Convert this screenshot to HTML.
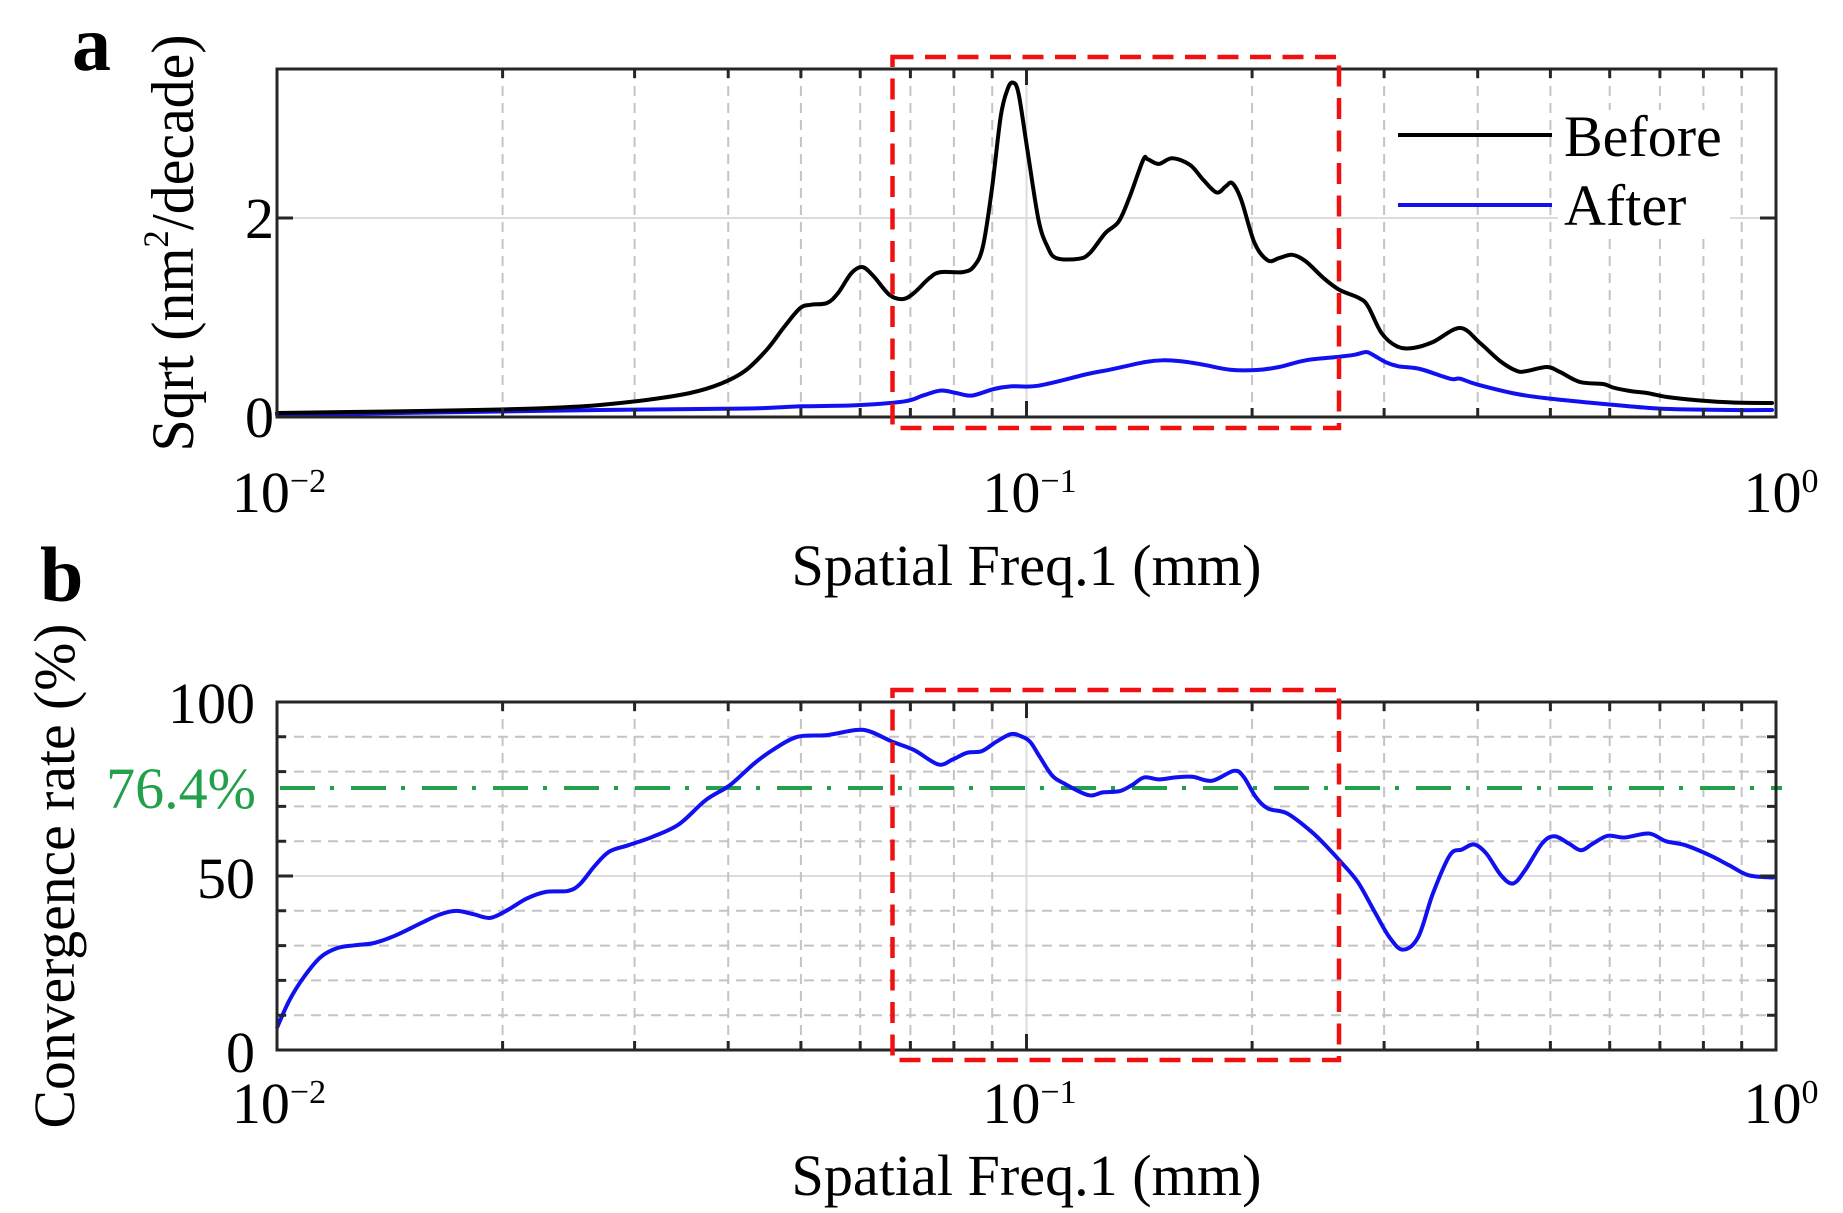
<!DOCTYPE html>
<html><head><meta charset="utf-8"><style>
html,body{margin:0;padding:0;background:#fff;}
svg{display:block;}
text{font-family:"Liberation Serif","Times New Roman",serif;fill:#000;}
</style></head><body>
<svg id="fig" width="1843" height="1213" viewBox="0 0 1843 1213" xmlns="http://www.w3.org/2000/svg">
<rect x="0" y="0" width="1843" height="1213" fill="#fff"/>

<!-- ===== Panel a ===== -->
<g fill="none">
  <path d="M1026.5 69V417M277 218H1776" stroke="#dcdcdc" stroke-width="2"/>
  <path d="M502.6 69V417M634.6 69V417M728.2 69V417M800.9 69V417M860.2 69V417M910.4 69V417M953.9 69V417M992.2 69V417M1252.1 69V417M1384.1 69V417M1477.7 69V417M1550.4 69V417M1609.7 69V417M1659.9 69V417M1703.4 69V417M1741.7 69V417" stroke="#c4c4c4" stroke-width="2" stroke-dasharray="10 7"/>
</g>
<rect x="1558" y="110" width="172" height="128" fill="#fff"/>

<polyline class="smooth" fill="none" stroke="#1010f0" stroke-width="4" stroke-linejoin="round" stroke-linecap="round" points="277,414.5 400,413 500,411.5 600,410 700,409 757.9,408.3 802.4,406.3 855.9,405.3 904.9,401.3 922.7,395.6 940.5,390.6 956.1,393 971.7,395.6 994,389 1011.8,386.3 1038.5,385.7 1087.5,374 1109.8,369.7 1145.4,362 1163.3,360.3 1181.1,361.3 1203.3,364.7 1230.1,369.7 1256.8,370 1279.1,367 1305.8,360.3 1337,357 1354.8,354.7 1366,352 1372.6,354.7 1386,362.3 1398.4,366.3 1420,369 1450,378.7 1460,378.7 1477,384.4 1517,394 1550,398.6 1600,403.6 1660,408.6 1733,410 1772,410"/>

<polyline class="smooth" fill="none" stroke="#000" stroke-width="4" stroke-linejoin="round" stroke-linecap="round" points="277,413 350,412 420,411 500,409.5 560,407.5 600,405 650,399.5 690,393 720,384 744.5,371.3 766.8,349.7 784.6,326.4 800.2,308.1 811.4,304.7 827,303 838.1,293 851.4,273.1 862.6,267.1 873.7,276.4 889.3,294.7 902.7,299.1 913.8,293.1 929.4,278.1 940.5,272.1 962.8,272.1 973.9,266.4 982.9,246.5 991.8,189.9 1000.7,116.6 1007.3,90 1012.7,82.6 1018.5,93.3 1027.4,149.9 1038.5,219.8 1047.4,246.5 1056.3,258.1 1078.6,258.8 1089.8,253.1 1105.3,233.1 1118.7,221.5 1129.8,196.5 1143.2,159.9 1147.6,159.2 1158.8,163.9 1172.2,158.2 1190,164.9 1203.3,179.9 1216.7,192.5 1225.6,186.5 1232.3,183.2 1241.2,199.8 1254.6,243.1 1267.9,260.4 1279.1,258.1 1292.4,254.8 1305.8,261.4 1323.6,278.1 1339.2,289.7 1359.2,298.1 1368.1,306.4 1381.5,333 1397.1,346.4 1413,348 1433,342 1460,328 1480,343 1500,361 1517,371 1527,371 1547,367 1560,372 1580,382 1603,384 1613,387.5 1630,391 1647,393 1667,397 1700,400.5 1733,402.5 1772,403"/>

<g fill="none" stroke="#262626" stroke-width="3">
  <rect x="277" y="69" width="1499" height="348"/>
  <path d="M502.6 69v9M634.6 69v9M728.2 69v9M800.9 69v9M860.2 69v9M910.4 69v9M953.9 69v9M992.2 69v9M1252.1 69v9M1384.1 69v9M1477.7 69v9M1550.4 69v9M1609.7 69v9M1659.9 69v9M1703.4 69v9M1741.7 69v9M1026.5 69v16
           M502.6 417v-9M634.6 417v-9M728.2 417v-9M800.9 417v-9M860.2 417v-9M910.4 417v-9M953.9 417v-9M992.2 417v-9M1252.1 417v-9M1384.1 417v-9M1477.7 417v-9M1550.4 417v-9M1609.7 417v-9M1659.9 417v-9M1703.4 417v-9M1741.7 417v-9M1026.5 417v-16
           M277 218h16M1776 218h-16"/>
</g>

<rect x="892.5" y="57" width="446.5" height="371" fill="none" stroke="#f01010" stroke-width="4.5" stroke-dasharray="21 11.5"/>

<!-- legend -->
<path d="M1398 135H1552" stroke="#000" stroke-width="4"/>
<path d="M1398 205H1552" stroke="#1010f0" stroke-width="4"/>
<text x="1564" y="156" font-size="58">Before</text>
<text x="1564" y="225" font-size="58">After</text>

<!-- axis labels a -->
<text x="274" y="238" font-size="58" text-anchor="end">2</text>
<text x="274" y="437" font-size="58" text-anchor="end">0</text>
<text x="279" y="512" font-size="58" text-anchor="middle">10<tspan font-size="34" dy="-20">−2</tspan></text>
<text x="1029.5" y="512" font-size="58" text-anchor="middle">10<tspan font-size="34" dy="-20">−1</tspan></text>
<text x="1781" y="512" font-size="58" text-anchor="middle">10<tspan font-size="34" dy="-20">0</tspan></text>
<text x="1026.5" y="585" font-size="58" text-anchor="middle" textLength="470" lengthAdjust="spacingAndGlyphs">Spatial Freq.1 (mm)</text>
<text transform="translate(193,243) rotate(-90)" font-size="60" text-anchor="middle" textLength="417" lengthAdjust="spacingAndGlyphs">Sqrt (nm<tspan font-size="36" dy="-25">2</tspan><tspan dy="25">/decade)</tspan></text>
<text x="72" y="70" font-size="78" font-weight="bold">a</text>

<!-- ===== Panel b ===== -->
<g fill="none">
  <path d="M1026.5 702V1050M277 876H1776" stroke="#dcdcdc" stroke-width="2"/>
  <path d="M502.6 702V1050M634.6 702V1050M728.2 702V1050M800.9 702V1050M860.2 702V1050M910.4 702V1050M953.9 702V1050M992.2 702V1050M1252.1 702V1050M1384.1 702V1050M1477.7 702V1050M1550.4 702V1050M1609.7 702V1050M1659.9 702V1050M1703.4 702V1050M1741.7 702V1050
           M277 736.8H1776M277 771.6H1776M277 806.4H1776M277 841.2H1776M277 910.8H1776M277 945.6H1776M277 980.4H1776M277 1015.2H1776" stroke="#c4c4c4" stroke-width="2" stroke-dasharray="10 7"/>
</g>

<path d="M280 788H1782" fill="none" stroke="#23a04b" stroke-width="4" stroke-dasharray="35 15 4 17"/>

<polyline class="smooth" fill="none" stroke="#1010f0" stroke-width="4" stroke-linejoin="round" stroke-linecap="round" points="277.3,1027 289.4,1000.3 303.9,977 320.8,957 337.8,947.9 354.7,945.3 374.1,943 395.9,935.3 420.1,923.6 439.5,914.6 456.4,910.9 473.4,914.2 490.3,917.9 507.3,910.2 526.7,898.6 546,891.9 567.8,890.9 579.9,884.2 594.5,866.2 609,851.8 628.4,845.2 652.6,836.8 679.2,824.1 705.8,800.1 730,785.1 754.3,763.4 773.6,749.4 797.8,736.7 826.9,735.1 856,730 870.5,731.7 892.3,741.7 914.1,750.1 938.3,764.4 952.8,759.4 967.3,752.7 981.9,751.1 996.4,741.7 1010.9,734.1 1020.6,736.1 1030,741.7 1039.7,756.7 1051.8,775.1 1064,783.4 1088.3,795.1 1102.8,792.4 1119.8,791.1 1132,785.1 1144.1,777.4 1158.6,779.4 1175.6,777.4 1192.6,776.8 1212,780.8 1233.9,770.8 1243.6,776.8 1255.7,796.8 1267.9,808.5 1287.3,813.5 1311.6,831.8 1328.5,848.5 1340.7,861.8 1357.7,881.9 1374.7,911.9 1389.2,936.9 1402.8,949.6 1418.3,936.9 1432.9,893.5 1449.9,855.2 1462,849.5 1474.2,844.5 1486.3,853.5 1500.9,875.2 1513,883.5 1525.1,870.2 1542.1,843.5 1554.3,836.2 1568.8,843.5 1581,850.2 1593.1,843.5 1607.7,835.8 1624.7,837.5 1648.9,833.5 1665.9,841.2 1685.3,845.2 1709.6,855.2 1729,865.2 1748.4,875.2 1772.7,877.5"/>

<g fill="none" stroke="#262626" stroke-width="3">
  <rect x="277" y="702" width="1499" height="348"/>
  <path d="M502.6 702v9M634.6 702v9M728.2 702v9M800.9 702v9M860.2 702v9M910.4 702v9M953.9 702v9M992.2 702v9M1252.1 702v9M1384.1 702v9M1477.7 702v9M1550.4 702v9M1609.7 702v9M1659.9 702v9M1703.4 702v9M1741.7 702v9M1026.5 702v16
           M502.6 1050v-9M634.6 1050v-9M728.2 1050v-9M800.9 1050v-9M860.2 1050v-9M910.4 1050v-9M953.9 1050v-9M992.2 1050v-9M1252.1 1050v-9M1384.1 1050v-9M1477.7 1050v-9M1550.4 1050v-9M1609.7 1050v-9M1659.9 1050v-9M1703.4 1050v-9M1741.7 1050v-9M1026.5 1050v-16
           M277 736.8h9M277 771.6h9M277 806.4h9M277 841.2h9M277 910.8h9M277 945.6h9M277 980.4h9M277 1015.2h9M277 876h16
           M1776 736.8h-9M1776 771.6h-9M1776 806.4h-9M1776 841.2h-9M1776 910.8h-9M1776 945.6h-9M1776 980.4h-9M1776 1015.2h-9M1776 876h-16"/>
</g>

<rect x="892.5" y="690" width="446.5" height="370" fill="none" stroke="#f01010" stroke-width="4.5" stroke-dasharray="21 11.5"/>

<!-- axis labels b -->
<text x="255" y="723" font-size="58" text-anchor="end">100</text>
<text x="255" y="898" font-size="58" text-anchor="end">50</text>
<text x="255" y="1072" font-size="58" text-anchor="end">0</text>
<text x="256" y="808" font-size="58" text-anchor="end" style="fill:#23a04b">76.4%</text>
<text x="279" y="1123" font-size="58" text-anchor="middle">10<tspan font-size="34" dy="-20">−2</tspan></text>
<text x="1029.5" y="1123" font-size="58" text-anchor="middle">10<tspan font-size="34" dy="-20">−1</tspan></text>
<text x="1781" y="1123" font-size="58" text-anchor="middle">10<tspan font-size="34" dy="-20">0</tspan></text>
<text x="1026.5" y="1195" font-size="58" text-anchor="middle" textLength="470" lengthAdjust="spacingAndGlyphs">Spatial Freq.1 (mm)</text>
<text transform="translate(74,876) rotate(-90)" font-size="58" text-anchor="middle" textLength="505" lengthAdjust="spacingAndGlyphs">Convergence rate (%)</text>
<text x="40" y="601" font-size="78" font-weight="bold">b</text>
</svg>
<script>
(function(){
  var NS='http://www.w3.org/2000/svg';
  var pls=document.querySelectorAll('polyline.smooth');
  for(var k=0;k<pls.length;k++){
    var pl=pls[k];
    var pts=pl.getAttribute('points').trim().split(/\s+/).map(function(s){return s.split(',').map(Number);});
    var d='M'+pts[0][0]+' '+pts[0][1];
    for(var i=0;i<pts.length-1;i++){
      var p0=pts[i-1]||pts[i],p1=pts[i],p2=pts[i+1],p3=pts[i+2]||pts[i+1];
      var c1x=p1[0]+(p2[0]-p0[0])/6,c1y=p1[1]+(p2[1]-p0[1])/6;
      var c2x=p2[0]-(p3[0]-p1[0])/6,c2y=p2[1]-(p3[1]-p1[1])/6;
      d+='C'+c1x.toFixed(2)+' '+c1y.toFixed(2)+' '+c2x.toFixed(2)+' '+c2y.toFixed(2)+' '+p2[0]+' '+p2[1];
    }
    var path=document.createElementNS(NS,'path');
    ['fill','stroke','stroke-width','stroke-linejoin','stroke-linecap'].forEach(function(a){
      if(pl.getAttribute(a)!==null) path.setAttribute(a,pl.getAttribute(a));
    });
    path.setAttribute('d',d);
    pl.parentNode.replaceChild(path,pl);
  }
})();
</script>
</body></html>
